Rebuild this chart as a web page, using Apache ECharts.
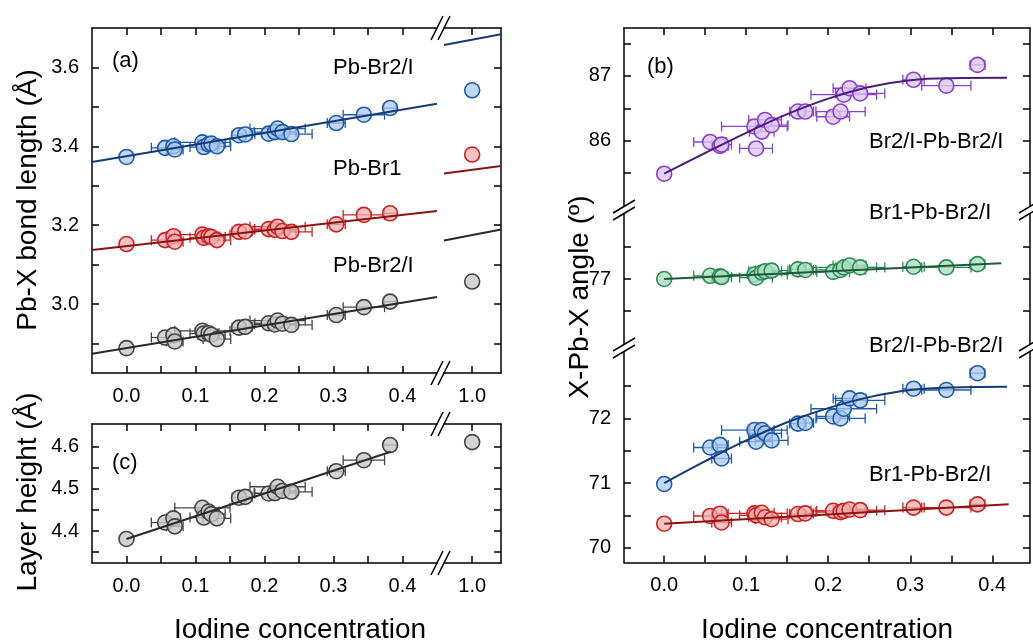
<!DOCTYPE html>
<html><head><meta charset="utf-8">
<script src="https://cdn.jsdelivr.net/npm/echarts@6/dist/echarts.min.js"></script>
<style>html,body{margin:0;padding:0;background:#fff}#c{width:1033px;height:643px}</style>
</head><body><div id="c"></div>
<script>
// ---------- DATA ----------
const X    = [0, 0.056, 0.068, 0.070, 0.110, 0.112, 0.119, 0.123, 0.131, 0.163, 0.172, 0.206, 0.215, 0.219, 0.226, 0.239, 0.304, 0.344, 0.382];
const XERR = [0, 0.020, 0.010, 0.012, 0.040, 0.020, 0.015, 0.020, 0.020, 0.010, 0.010, 0.020, 0.030, 0.040, 0.020, 0.030, 0.013, 0.030, 0.009];

// panel (a): Pb-X bond length
const pbBr2I_top = [3.373, 3.396, 3.400, 3.392, 3.410, 3.398, 3.405, 3.407, 3.400, 3.428, 3.430, 3.432, 3.436, 3.445, 3.436, 3.431, 3.459, 3.480, 3.497];
const pbBr1      = [3.152, 3.162, 3.172, 3.158, 3.176, 3.168, 3.172, 3.170, 3.162, 3.183, 3.184, 3.190, 3.188, 3.196, 3.185, 3.183, 3.202, 3.226, 3.230];
const pbBr2I_bot = [2.888, 2.915, 2.921, 2.905, 2.932, 2.925, 2.926, 2.922, 2.911, 2.940, 2.942, 2.951, 2.948, 2.958, 2.950, 2.947, 2.972, 2.992, 3.006];
const pure_X = [1.0];
const pure_pbBr2I_top = [3.542];
const pure_pbBr1      = [3.379];
const pure_pbBr2I_bot = [3.057];

// panel (c): layer height
const layerHeight = [4.381, 4.420, 4.430, 4.411, 4.455, 4.432, 4.446, 4.440, 4.430, 4.479, 4.481, 4.489, 4.490, 4.505, 4.495, 4.493, 4.542, 4.568, 4.604];
const pure_layerHeight = [4.611];

// panel (b): X-Pb-X angles
const angPurple = [85.49, 85.98, 85.92, 85.94, 86.22, 85.88, 86.14, 86.32, 86.24, 86.45, 86.45, 86.37, 86.45, 86.71, 86.81, 86.73, 86.94, 86.85, 87.17];
const angGreen  = [77.00, 77.05, 77.04, 77.03, 77.07, 77.02, 77.10, 77.12, 77.13, 77.15, 77.14, 77.11, 77.14, 77.18, 77.21, 77.18, 77.19, 77.18, 77.23];
const angBlue   = [70.985, 71.55, 71.59, 71.38, 71.82, 71.64, 71.82, 71.77, 71.66, 71.92, 71.93, 72.03, 72.00, 72.15, 72.31, 72.28, 72.46, 72.44, 72.70];
const angRed    = [70.37, 70.49, 70.525, 70.39, 70.53, 70.50, 70.54, 70.47, 70.44, 70.52, 70.53, 70.57, 70.55, 70.57, 70.59, 70.58, 70.62, 70.62, 70.67];

// fit curves
const fitA_left_x   = [-0.05, 0.45];
const fitA_right_x  = [0.959, 1.042];
const fitBlueA_left = [3.360, 3.508];
const fitBlueA_right= [3.657, 3.684];
const fitRedA_left  = [3.137, 3.236];
const fitRedA_right = [3.331, 3.350];
const fitGrayA_left = [2.874, 3.018];
const fitGrayA_right= [3.161, 3.189];
const fitC_x = [0, 0.383];
const fitC_y = [4.381, 4.588];
const fitCurve_x  = [0, 0.05, 0.10, 0.15, 0.20, 0.25, 0.30, 0.35, 0.418];
const fitPurple_y = [85.49, 85.81, 86.12, 86.41, 86.65, 86.83, 86.935, 86.965, 86.97];
const fitBlueB_y  = [71.00, 71.34, 71.66, 71.94, 72.16, 72.33, 72.44, 72.48, 72.49];
const fitGreen_x = [0, 0.411];
const fitGreen_y = [77.00, 77.245];
const fitRedB_x = [0, 0.42];
const fitRedB_y = [70.37, 70.67];

// tick values
const xTicks  = [0, 0.05, 0.1, 0.15, 0.2, 0.25, 0.3, 0.35, 0.4];
const xLabels = [0, 0.1, 0.2, 0.3, 0.4];
const xTicksPure = [1.0];
const yTicksA  = [2.9, 3.0, 3.1, 3.2, 3.3, 3.4, 3.5, 3.6];
const yLabelsA = [3.0, 3.2, 3.4, 3.6];
const yTicksC  = [4.35, 4.4, 4.45, 4.5, 4.55, 4.6];
const yLabelsC = [4.4, 4.5, 4.6];
const yTicksB1 = [85.5, 86, 86.5, 87, 87.5];
const yLabelsB1 = [86, 87];
const yTicksB2 = [76.5, 77, 77.5];
const yLabelsB2 = [77];
const yTicksB3 = [70, 70.5, 71, 71.5, 72, 72.5];
const yLabelsB3 = [70, 71, 72];

// ---------- STYLE ----------
const FONT = '"Liberation Sans", Arial, sans-serif';
const C = {
  blue:   {stroke:'#1f5aa6', fill:'rgba(170,200,240,0.75)', line:'#163a74'},
  red:    {stroke:'#cc2222', fill:'rgba(242,175,175,0.75)', line:'#8a1414'},
  gray:   {stroke:'#444444', fill:'rgba(200,200,200,0.8)', line:'#2a2a2a'},
  purple: {stroke:'#8b3fcf', fill:'rgba(220,200,240,0.8)', line:'#4a1e78'},
  green:  {stroke:'#2e8a57', fill:'rgba(170,222,192,0.8)', line:'#1d5a38'}
};

const chart = echarts.init(document.getElementById('c'), null, {renderer:'canvas'});

const axLine = {show:true, onZero:false, lineStyle:{color:'#000', width:1.5}};
function mkX(gi, min, max, pos, ticks, labels, dec) {
  return {type:'value', gridIndex:gi, min:min, max:max, position:pos,
    axisLine:axLine,
    axisTick:{show:ticks.length>0, inside:true, length:7, lineStyle:{color:'#000', width:1.5}, customValues:ticks},
    axisLabel:{show:!!labels, customValues:labels||[], margin:13, color:'#000', fontSize:20, fontFamily:FONT,
      formatter:function(v){return v.toFixed(dec==null?1:dec);}},
    splitLine:{show:false}};
}
function mkY(gi, min, max, pos, ticks, labels, dec) {
  return {type:'value', gridIndex:gi, min:min, max:max, position:pos,
    axisLine:axLine,
    axisTick:{show:true, inside:true, length:7, lineStyle:{color:'#000', width:1.5}, customValues:ticks},
    axisLabel:{show:!!labels, customValues:labels||[], margin:13, color:'#000', fontSize:20, fontFamily:FONT,
      formatter:function(v){return v.toFixed(dec);}},
    splitLine:{show:false}};
}

// layout
const G = {
  aL:92, aW:345, aR2:444, aR2W:57, aT:28, aH:345, cT:424, cH:139,
  bL:624, bW:406, bT:28, b1H:182, b2H:138, b3H:214.5
};
const grids = [
  {left:G.aL,  top:G.aT, width:G.aW,   height:G.aH},
  {left:G.aR2, top:G.aT, width:G.aR2W, height:G.aH},
  {left:G.aL,  top:G.cT, width:G.aW,   height:G.cH},
  {left:G.aR2, top:G.cT, width:G.aR2W, height:G.cH},
  {left:G.bL,  top:G.bT, width:G.bW,   height:G.b1H},
  {left:G.bL,  top:G.bT+G.b1H, width:G.bW, height:G.b2H},
  {left:G.bL,  top:G.bT+G.b1H+G.b2H, width:G.bW, height:G.b3H}
].map(g => Object.assign(g, {containLabel:false, outerBoundsMode:'none'}));

const xMinA = -0.05, xMaxA = 0.45, xMinP = 0.959, xMaxP = 1.042;
const xMinB = -0.049, xMaxB = 0.446;
const xAxes = [
  mkX(0, xMinA, xMaxA, 'bottom', xTicks, xLabels),
  mkX(0, xMinA, xMaxA, 'top', xTicks, null),
  mkX(1, xMinP, xMaxP, 'bottom', xTicksPure, xTicksPure),
  mkX(1, xMinP, xMaxP, 'top', xTicksPure, null),
  mkX(2, xMinA, xMaxA, 'bottom', xTicks, xLabels),
  mkX(2, xMinA, xMaxA, 'top', xTicks, null),
  mkX(3, xMinP, xMaxP, 'bottom', xTicksPure, xTicksPure),
  mkX(3, xMinP, xMaxP, 'top', xTicksPure, null),
  mkX(4, xMinB, xMaxB, 'top', xTicks, null),
  Object.assign(mkX(5, xMinB, xMaxB, 'bottom', [], null), {show:false}),
  mkX(6, xMinB, xMaxB, 'bottom', xTicks, xLabels)
];
const yAxes = [
  mkY(0, 2.825, 3.70, 'left', yTicksA, yLabelsA, 1),
  mkY(1, 2.825, 3.70, 'right', yTicksA, null, 1),
  mkY(2, 4.324, 4.654, 'left', yTicksC, yLabelsC, 1),
  mkY(3, 4.324, 4.654, 'right', yTicksC, null, 1),
  mkY(4, 84.93, 87.74, 'left', yTicksB1, yLabelsB1, 0),
  mkY(4, 84.93, 87.74, 'right', yTicksB1, null, 0),
  mkY(5, 75.93, 78.07, 'left', yTicksB2, yLabelsB2, 0),
  mkY(5, 75.93, 78.07, 'right', yTicksB2, null, 0),
  mkY(6, 69.77, 73.09, 'left', yTicksB3, yLabelsB3, 0),
  mkY(6, 69.77, 73.09, 'right', yTicksB3, null, 0)
];

const series = [];
function addPoints(xs, ys, errs, col, xi, yi) {
  if (errs) {
    series.push({type:'custom', xAxisIndex:xi, yAxisIndex:yi, z:1, silent:true,
      data: xs.map((x,i)=>[x, ys[i], errs[i]]), encode:{x:0, y:1},
      renderItem: function(params, api) {
        const x = api.value(0), y = api.value(1), e = api.value(2);
        if (!e) return null;
        const p1 = api.coord([x - e, y]), p2 = api.coord([x + e, y]);
        const st = {stroke: col.stroke, lineWidth: 1.3};
        const h = 5;
        return {type:'group', children:[
          {type:'line', shape:{x1:p1[0], y1:p1[1], x2:p2[0], y2:p2[1]}, style:st},
          {type:'line', shape:{x1:p1[0], y1:p1[1]-h, x2:p1[0], y2:p1[1]+h}, style:st},
          {type:'line', shape:{x1:p2[0], y1:p2[1]-h, x2:p2[0], y2:p2[1]+h}, style:st}
        ]};
      }});
  }
  series.push({type:'scatter', xAxisIndex:xi, yAxisIndex:yi, z:2, symbol:'circle', symbolSize:15,
    data: xs.map((x,i)=>[x, ys[i]]),
    itemStyle:{color:col.fill, borderColor:col.stroke, borderWidth:1.6, opacity:1}});
}
function addLine(xs, ys, col, xi, yi, smooth) {
  series.push({type:'line', xAxisIndex:xi, yAxisIndex:yi, z:3, showSymbol:false, symbol:'none',
    smooth: smooth ? 0.4 : false, silent:true,
    data: xs.map((x,i)=>[x, ys[i]]),
    lineStyle:{color:col.line, width:2}});
}

// panel (a)
addPoints(X, pbBr2I_top, XERR, C.blue, 0, 0);
addPoints(X, pbBr1, XERR, C.red, 0, 0);
addPoints(X, pbBr2I_bot, XERR, C.gray, 0, 0);
addLine(fitA_left_x, fitBlueA_left, C.blue, 0, 0);
addLine(fitA_left_x, fitRedA_left, C.red, 0, 0);
addLine(fitA_left_x, fitGrayA_left, C.gray, 0, 0);
addPoints(pure_X, pure_pbBr2I_top, null, C.blue, 2, 1);
addPoints(pure_X, pure_pbBr1, null, C.red, 2, 1);
addPoints(pure_X, pure_pbBr2I_bot, null, C.gray, 2, 1);
addLine(fitA_right_x, fitBlueA_right, C.blue, 2, 1);
addLine(fitA_right_x, fitRedA_right, C.red, 2, 1);
addLine(fitA_right_x, fitGrayA_right, C.gray, 2, 1);
// panel (c)
addPoints(X, layerHeight, XERR, C.gray, 4, 2);
addLine(fitC_x, fitC_y, C.gray, 4, 2);
addPoints(pure_X, pure_layerHeight, null, C.gray, 6, 3);
// panel (b)
addPoints(X, angPurple, XERR, C.purple, 8, 4);
addLine(fitCurve_x, fitPurple_y, C.purple, 8, 4, true);
addPoints(X, angGreen, XERR, C.green, 9, 6);
addLine(fitGreen_x, fitGreen_y, C.green, 9, 6);
addPoints(X, angBlue, XERR, C.blue, 10, 8);
addLine(fitCurve_x, fitBlueB_y, C.blue, 10, 8, true);
addPoints(X, angRed, XERR, C.red, 10, 8);
addLine(fitRedB_x, fitRedB_y, C.red, 10, 8);

// ---------- decorations ----------
const graphic = [];
function txt(x, y, s, size, align) {
  graphic.push({type:'text', x:x, y:y, z:10, silent:true,
    style:{text:s, fontSize:size, fontFamily:FONT, fill:'#000', align:align||'left', verticalAlign:'middle'}});
}
function vtxt(x, y, s, size) {
  graphic.push({type:'text', x:x, y:y, rotation:Math.PI/2, z:10, silent:true,
    style:{text:s, fontSize:size, fontFamily:FONT, fill:'#000', align:'center', verticalAlign:'middle'}});
}
function seg(x1, y1, x2, y2) {
  graphic.push({type:'line', z:10, silent:true, shape:{x1:x1, y1:y1, x2:x2, y2:y2}, style:{stroke:'#000', lineWidth:1.5}});
}
// x-axis breaks, panels (a) and (c)
const bxc = (G.aL + G.aW + G.aR2) / 2;
[G.aT, G.aT + G.aH, G.cT, G.cT + G.cH].forEach(y => {
  [-3.5, 3.5].forEach(d => seg(bxc + d - 6, y + 12, bxc + d + 6, y - 12));
});
// y-axis breaks, panel (b)
const by1 = G.bT + G.b1H, by2 = G.bT + G.b1H + G.b2H;
[G.bL, G.bL + G.bW].forEach(x => {
  [by1, by2].forEach(y => {
    graphic.push({type:'rect', z:9, silent:true, shape:{x:x-2, y:y-3, width:4, height:6}, style:{fill:'#fff'}});
    [-3.5, 3.5].forEach(d => seg(x - 11, y + d + 6.5, x + 11, y + d - 6.5));
  });
});

txt(112, 61, '(a)', 22);
txt(112, 463, '(c)', 22);
txt(647, 67, '(b)', 22);
txt(333, 68, 'Pb-Br2/I', 22);
txt(333, 169, 'Pb-Br1', 22);
txt(333, 266, 'Pb-Br2/I', 22);
txt(869, 142, 'Br2/I-Pb-Br2/I', 22);
txt(869, 213, 'Br1-Pb-Br2/I', 22);
txt(869, 346, 'Br2/I-Pb-Br2/I', 22);
txt(869, 475, 'Br1-Pb-Br2/I', 22);

vtxt(28, 200, 'Pb-X bond length (Å)', 28);
vtxt(28, 492, 'Layer height (Å)', 28);
vtxt(580, 297, 'X-Pb-X angle (º)', 28);
txt(300, 630, 'Iodine concentration', 28, 'center');
txt(827, 630, 'Iodine concentration', 28, 'center');

chart.setOption({
  animation:false,
  backgroundColor:'#fff',
  grid:grids,
  xAxis:xAxes,
  yAxis:yAxes,
  series:series,
  graphic:graphic
});
</script></body></html>
